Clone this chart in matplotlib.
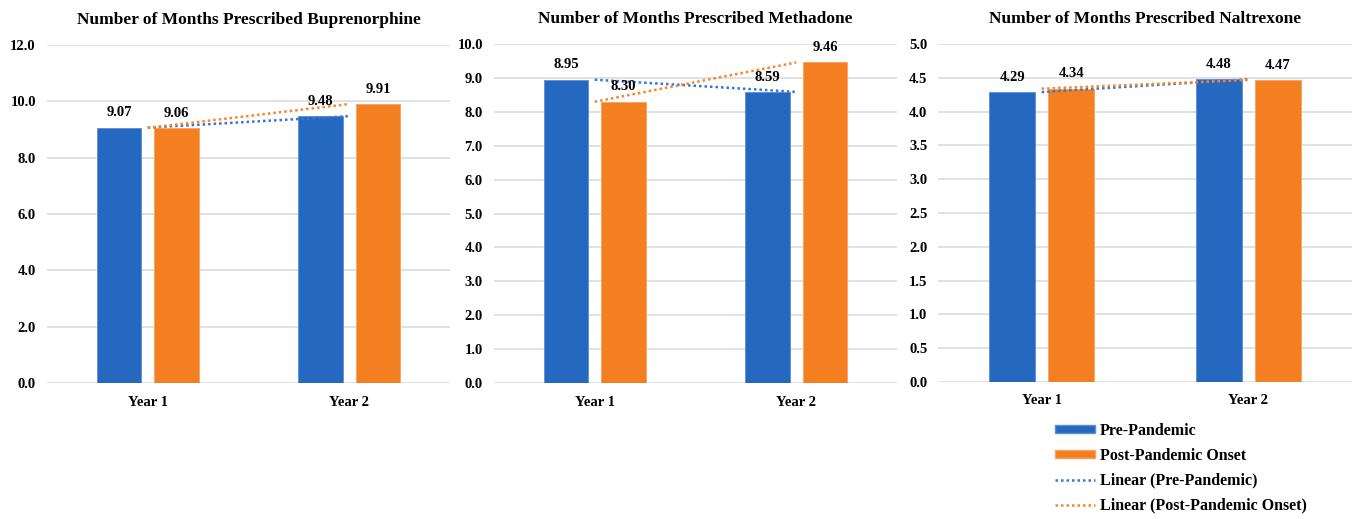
import numpy as np
import matplotlib
matplotlib.use('Agg')
import matplotlib.pyplot as plt
from matplotlib.patches import Patch
from matplotlib.lines import Line2D

plt.rcParams['font.family'] = ['Liberation Serif', 'DejaVu Serif']
plt.rcParams['font.weight'] = 'bold'

years = ['Year 1', 'Year 2']
titles = ['Number of Months Prescribed Buprenorphine',
          'Number of Months Prescribed Methadone',
          'Number of Months Prescribed Naltrexone']

# months prescribed, one list per drug
pre_bup = [9.07, 9.48]
post_bup = [9.06, 9.91]
pre_met = [8.95, 8.59]
post_met = [8.30, 9.46]
pre_nal = [4.29, 4.48]
post_nal = [4.34, 4.47]

y_max = [12.0, 10.0, 5.0]
y_step = [2.0, 1.0, 0.5]

BLUE = '#2469BF'
ORANGE = '#F47F20'
BLUE_LINE = '#3576D4'
ORANGE_LINE = '#F7862A'
GRID = '#D9D9D9'

panels = [(pre_bup, post_bup), (pre_met, post_met), (pre_nal, post_nal)]
# axes boxes in figure fractions
boxes = [(0.0346, 0.262, 0.297, 0.651),
         (0.364, 0.262, 0.297, 0.653),
         (0.6915, 0.264, 0.3045, 0.651)]

fig = plt.figure(figsize=(13.57, 5.19), dpi=100)

x = np.arange(len(years))
bw = 0.222
off = 0.143

for i, (pre, post) in enumerate(panels):
    ax = fig.add_axes(boxes[i])
    b1 = ax.bar(x - off, pre, bw, color=BLUE, edgecolor='#5B8FD8', linewidth=0.6, zorder=3)
    b2 = ax.bar(x + off, post, bw, color=ORANGE, edgecolor='#F9A160', linewidth=0.6, zorder=3)

    # linear trendlines through the two yearly values
    p_pre = np.polyfit(x, pre, 1)
    p_post = np.polyfit(x, post, 1)
    ax.plot(x, np.polyval(p_pre, x), color=BLUE_LINE, linestyle=(0, (1, 1.2)), lw=1.8, zorder=4)
    ax.plot(x, np.polyval(p_post, x), color=ORANGE_LINE, linestyle=(0, (1, 1.2)), lw=1.8, zorder=4)

    for bars, vals in ((b1, pre), (b2, post)):
        for rect, v in zip(bars, vals):
            ax.annotate(f'{v:.2f}', (rect.get_x() + rect.get_width() / 2, v),
                        xytext=(0, 6), textcoords='offset points',
                        ha='center', va='bottom', fontsize=10.5, fontweight='bold', zorder=5)

    ax.set_xlim(-0.5, 1.5)
    ax.set_ylim(0, y_max[i])
    ax.set_yticks(np.arange(0, y_max[i] + 1e-9, y_step[i]))
    ax.yaxis.set_major_formatter(matplotlib.ticker.FormatStrFormatter('%.1f'))
    ax.set_xticks(x)
    ax.set_xticklabels(years)
    ax.tick_params(axis='both', length=0, labelsize=10.5, pad=8)
    ax.tick_params(axis='x', pad=9)
    ax.grid(axis='y', color=GRID, lw=1.1, zorder=0)
    ax.set_axisbelow(True)
    for s in ax.spines.values():
        s.set_visible(False)
    ax.set_title(titles[i], fontsize=12.5, fontweight='bold', pad=15)

handles = [Patch(facecolor=BLUE, edgecolor='#5B8FD8'),
           Patch(facecolor=ORANGE, edgecolor='#F9A160'),
           Line2D([], [], color=BLUE_LINE, linestyle=(0, (1, 1.2)), lw=1.8),
           Line2D([], [], color=ORANGE_LINE, linestyle=(0, (1, 1.2)), lw=1.8)]
labels = ['Pre-Pandemic', 'Post-Pandemic Onset',
          'Linear (Pre-Pandemic)', 'Linear (Post-Pandemic Onset)']
fig.legend(handles, labels, loc='upper left', bbox_to_anchor=(0.7728, 0.197),
           frameon=False, fontsize=11.5, handlelength=2.5, handleheight=0.4,
           handletextpad=0.3, labelspacing=0.55, borderaxespad=0)

fig.savefig('out.png', dpi=100)
